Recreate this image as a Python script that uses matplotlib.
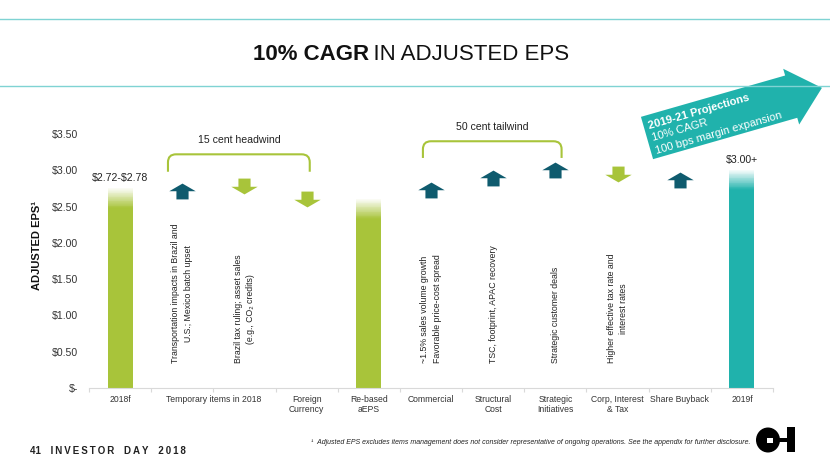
import numpy as np
import matplotlib
matplotlib.use("Agg")
import matplotlib.pyplot as plt
from matplotlib.path import Path
from matplotlib.patches import PathPatch, Polygon, Ellipse, Rectangle

# ---- data ----
categories = ["2018f", "", "", "Foreign\nCurrency", "Re-based\naEPS", "Commercial",
              "Structural\nCost", "Strategic\nInitiatives", "Corp, Interest\n& Tax",
              "Share Buyback", "2019f"]
group_label = "Temporary items in 2018"
group_pos = 1.5

bar_slots = [0, 4, 10]
bar_values = [2.75, 2.60, 3.00]
bar_labels = ["\\$2.72-\\$2.78", "", "\\$3.00+"]

arrow_slots = [1, 2, 3, 5, 6, 7, 8, 9]
arrow_levels = [2.71, 2.79, 2.60, 2.73, 2.90, 3.00, 2.95, 2.87]
arrow_dirs = ["up", "down", "down", "up", "up", "up", "down", "up"]

driver_slots = [1, 2, 5, 6, 7, 8]
driver_notes = ["Transportation impacts in Brazil and\nU.S.; Mexico batch upset",
                "Brazil tax ruling; asset sales\n(e.g., CO\u2082 credits)",
                "~1.5% sales volume growth\nFavorable price-cost spread",
                "TSC, footprint, APAC recovery",
                "Strategic customer deals",
                "Higher effective tax rate and\ninterest rates"]

bracket_labels = ["15 cent headwind", "50 cent tailwind"]
bracket_spans = [(0.77, 3.05), (4.87, 7.10)]
bracket_levels = [(2.98, 3.22), (3.17, 3.40)]

yticks = [0, 0.5, 1.0, 1.5, 2.0, 2.5, 3.0, 3.5]
ytick_labels = ["\\$-", "\\$0.50", "\\$1.00", "\\$1.50", "\\$2.00", "\\$2.50", "\\$3.00", "\\$3.50"]

proj_lines = ["2019-21 Projections", "10% CAGR", "100 bps margin expansion"]

LIME = "#a8c43a"
TEAL = "#20b2ac"
DARK = "#0f5b6e"
LINE = "#7fd3d3"
NARROW = ["Liberation Sans Narrow", "Liberation Sans", "DejaVu Sans"]
SANS = ["Liberation Sans", "DejaVu Sans"]
plt.rcParams["font.family"] = NARROW

W, H = 830, 467


def px(x, y):
    return (x / W, 1 - y / H)


fig = plt.figure(figsize=(W / 100, H / 100), dpi=100)
ax = fig.add_axes([89 / W, 1 - 388 / H, 684 / W, 254 / H])

# bars with faded tops
FADE = 0.27
n = 24
for s, v in zip(bar_slots, bar_values):
    col = TEAL if s == bar_slots[-1] else LIME
    ax.bar(s, v - FADE, width=0.4, color=col, linewidth=0)
    edges = np.linspace(v - FADE, v, n + 1)
    for i in range(n):
        ax.bar(s, edges[i + 1] - edges[i], bottom=edges[i], width=0.4, color=col,
               alpha=1 - (i + 0.5) / n * 0.97, linewidth=0, antialiased=False)

for s, v, lab in zip(bar_slots, bar_values, bar_labels):
    if lab:
        ax.annotate(lab, (s, v), xytext=(0, 4), textcoords="offset points",
                    ha="center", va="bottom", fontsize=7.6, color="#222222")

# up / down block arrows
up_path = Path([(-1, 0.02), (0, 0.6), (1, 0.02), (0.46, 0.02), (0.46, -0.6),
                (-0.46, -0.6), (-0.46, 0.02), (-1, 0.02)], closed=True)
down_path = Path(up_path.vertices * [1, -1], closed=True)
for s, lvl, d in zip(arrow_slots, arrow_levels, arrow_dirs):
    ax.plot(s, lvl, ls="none", marker=up_path if d == "up" else down_path, ms=19,
            color=DARK if d == "up" else LIME, mew=0, clip_on=False)

# rotated driver notes
for s, note in zip(driver_slots, driver_notes):
    ax.text(s, 0.34, note, rotation=90, ha="center", va="bottom", fontsize=6.3,
            linespacing=1.55, color="#222222")

# brackets
rx, ry = 0.13, 0.11
for (x0, x1), (y0, y1), lab in zip(bracket_spans, bracket_levels, bracket_labels):
    verts = [(x0, y0), (x0, y1 - ry), (x0, y1), (x0 + rx, y1), (x1 - rx, y1),
             (x1, y1), (x1, y1 - ry), (x1, y0)]
    codes = [Path.MOVETO, Path.LINETO, Path.CURVE3, Path.CURVE3, Path.LINETO,
             Path.CURVE3, Path.CURVE3, Path.LINETO]
    ax.add_patch(PathPatch(Path(verts, codes), fill=False, ec=LIME, lw=1.5,
                           clip_on=False))
    ax.text((x0 + x1) / 2, y1 + 0.13, lab, ha="center", va="bottom", fontsize=7.6,
            color="#222222", clip_on=False)

# axes styling
ax.set_xlim(-0.5, 10.5)
ax.set_ylim(0, 3.5)
ax.set_yticks(yticks)
ax.set_yticklabels(ytick_labels, fontsize=7.6, color="#333333")
ax.set_xticks(range(len(categories)))
ax.set_xticklabels(categories, fontsize=6.2, color="#333333", linespacing=1.15)
ax.set_xticks(np.arange(-0.5, 10.6, 1), minor=True)
ax.tick_params(axis="y", length=0, pad=8)
ax.tick_params(axis="x", which="major", length=0, pad=5)
ax.tick_params(axis="x", which="minor", length=3, color="#d9d9d9", width=0.8)
ax.text(group_pos, -0.095, group_label, ha="center", va="top", fontsize=6.2,
        color="#333333", transform=ax.transData)
for sp in ["top", "right", "left"]:
    ax.spines[sp].set_visible(False)
ax.spines["bottom"].set_color("#d9d9d9")

fig.text(*px(37, 246), "ADJUSTED EPS\u00b9", rotation=90, ha="center", va="center",
         fontsize=8, fontweight="bold", color="#111111")

# title and rules
fig.add_artist(plt.Line2D([0, 1], [1 - 19 / H] * 2, color=LINE, lw=1))
fig.add_artist(plt.Line2D([0, 1], [1 - 86 / H] * 2, color=LINE, lw=1))
r = fig.canvas.get_renderer()
t1 = fig.text(0, 1 - 54 / H, "10% CAGR", fontsize=16, fontweight="bold", family=SANS,
              va="center", color="#111111")
t2 = fig.text(0, 1 - 54 / H, "\u2009IN ADJUSTED EPS", fontsize=16, family=SANS,
              va="center", color="#111111")
w1 = t1.get_window_extent(r).width
w2 = t2.get_window_extent(r).width
start = 411 - (w1 + w2) / 2
t1.set_x(start / W)
t2.set_x((start + w1) / W)

# projection arrow
ang = 16.0
a = np.deg2rad(ang)
d = np.array([np.cos(a), np.sin(a)])
nrm = np.array([-np.sin(a), np.cos(a)])
p0 = np.array([647, H - 138])
local = [(0, -22), (150, -22), (150, -29), (182, 0), (150, 29), (150, 22), (0, 22)]
pts = [p0 + u * d + v * nrm for u, v in local]
fig.add_artist(Polygon([(p[0] / W, p[1] / H) for p in pts], closed=True,
                       transform=fig.transFigure, fc=TEAL, ec="none"))
for k, (txt, v) in enumerate(zip(proj_lines, [8, -5, -18])):
    p = p0 + 5 * d + v * nrm
    fig.text(p[0] / W, p[1] / H, txt, rotation=ang, rotation_mode="anchor",
             ha="left", va="baseline", fontsize=8, family=SANS, color="white",
             fontweight="bold" if k == 0 else "normal")

# footer
fig.text(*px(30, 451), "41\u2003I\u2009N\u2009V\u2009E\u2009S\u2009T\u2009O\u2009R\u2003D\u2009A\u2009Y\u2003"
         "2\u20090\u20091\u20098", fontsize=7, fontweight="bold", family=SANS, va="center",
         color="#222222")
fig.text(*px(750, 443), "\u00b9  Adjusted EPS excludes items management does not consider "
         "representative of ongoing operations. See the appendix for further disclosure.",
         fontsize=5.0, style="italic", ha="right", va="center", color="#222222")
# logo
fig.add_artist(Ellipse(px(768, 440), 24 / W, 25 / H, transform=fig.transFigure,
                       fc="black", ec="none"))
fig.add_artist(Rectangle(px(767, 443), 6 / W, 5 / H, transform=fig.transFigure,
                         fc="white", ec="none"))
fig.add_artist(Rectangle(px(778, 442), 10 / W, 4 / H, transform=fig.transFigure,
                         fc="black", ec="none"))
fig.add_artist(Rectangle(px(787, 452), 8 / W, 25 / H, transform=fig.transFigure,
                         fc="black", ec="none"))

fig.savefig("out.png", dpi=100)
